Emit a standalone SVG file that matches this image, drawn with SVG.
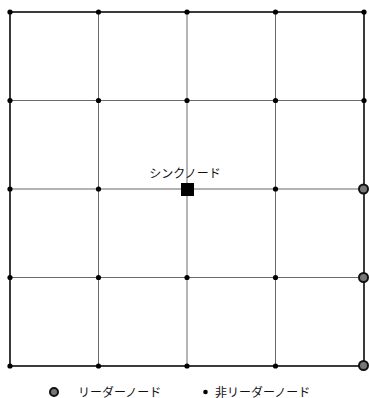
<svg xmlns="http://www.w3.org/2000/svg" width="369" height="398" viewBox="0 0 369 398">
<style>
.in{stroke:#6a6a6a;stroke-width:1;fill:none}
.mid{stroke:#9a9a9a;stroke-width:1.3;fill:none}
.out{stroke:#3a3a3a;stroke-width:2;fill:none}
.dot{fill:#000}
.leader{fill:#777;stroke:#111;stroke-width:2}
text{font-family:"Noto Sans CJK JP","Noto Sans",sans-serif;font-size:12px;fill:#111}
</style>
<rect width="369" height="398" fill="#fff"/>
<g id="connectors">
<path class="in" d="M98.5 12V366M187 12V366M275.5 12V366M10 100.5H364M10 277.5H364"/>
<path class="mid" d="M10 189H364"/>
<path class="out" d="M10 12H364V366H10Z"/>
</g>
<g id="nodes">
<g id="n-0-0"><circle class="dot" cx="10" cy="12" r="2.6"/><circle class="dot" cx="98.5" cy="12" r="2.6"/><circle class="dot" cx="187" cy="12" r="2.6"/><circle class="dot" cx="275.5" cy="12" r="2.6"/><circle class="dot" cx="364" cy="12" r="2.6"/></g>
<g id="n-1"><circle class="dot" cx="10" cy="100.5" r="2.6"/><circle class="dot" cx="98.5" cy="100.5" r="2.6"/><circle class="dot" cx="187" cy="100.5" r="2.6"/><circle class="dot" cx="275.5" cy="100.5" r="2.6"/><circle class="dot" cx="364" cy="100.5" r="2.6"/></g>
<g id="n-2"><circle class="dot" cx="10" cy="189" r="2.6"/><circle class="dot" cx="98.5" cy="189" r="2.6"/><circle class="dot" cx="275.5" cy="189" r="2.6"/></g>
<g id="n-3"><circle class="dot" cx="10" cy="277.5" r="2.6"/><circle class="dot" cx="98.5" cy="277.5" r="2.6"/><circle class="dot" cx="187" cy="277.5" r="2.6"/><circle class="dot" cx="275.5" cy="277.5" r="2.6"/></g>
<g id="n-4"><circle class="dot" cx="10" cy="366" r="2.6"/><circle class="dot" cx="98.5" cy="366" r="2.6"/><circle class="dot" cx="187" cy="366" r="2.6"/><circle class="dot" cx="275.5" cy="366" r="2.6"/></g>
<g id="leaders"><circle class="leader" cx="363.5" cy="189" r="4.5"/><circle class="leader" cx="363.5" cy="277.5" r="4.5"/><circle class="leader" cx="363.5" cy="365.5" r="4.5"/></g>
<g id="sink"><rect x="181" y="183" width="13" height="13" fill="#000"/><text x="185" y="178" text-anchor="middle">シンクノード</text></g>
</g>
<g id="legend">
<circle class="leader" cx="54" cy="392" r="4"/>
<text x="78" y="396.5">リーダーノード</text>
<circle class="dot" cx="205.5" cy="392" r="2.3"/>
<text x="215" y="396.5">非リーダーノード</text>
</g>
</svg>
